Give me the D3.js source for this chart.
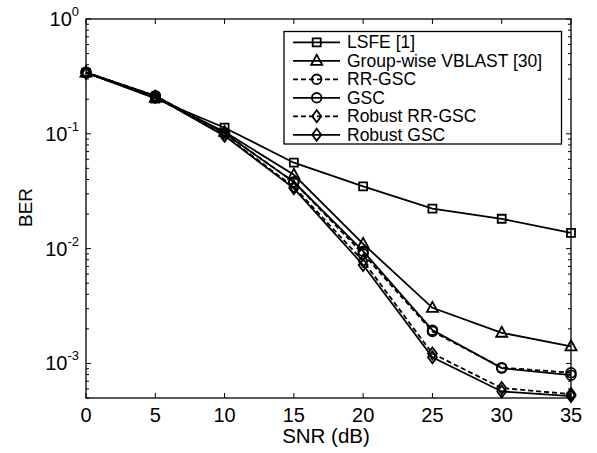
<!DOCTYPE html>
<html><head><meta charset="utf-8">
<script src="https://cdn.jsdelivr.net/npm/d3@7"></script>
<style>body{margin:0;background:#fff}svg{display:block}text{font-family:"Liberation Sans",Arial,sans-serif;fill:#000}</style>
</head><body>
<svg id="c" width="597" height="453"></svg>
<script>
const snr = [0, 5, 10, 15, 20, 25, 30, 35];
const seriesNames = ["LSFE [1]", "Group-wise VBLAST [30]", "RR-GSC", "GSC", "Robust RR-GSC", "Robust GSC"];
const markers = ["square", "triangle", "circle", "circle", "diamond", "diamond"];
const dashed = [false, false, true, false, true, false];
const lsfe = [0.341, 0.203, 0.113, 0.056, 0.0348, 0.0223, 0.0182, 0.0137];
const vblast = [0.341, 0.206, 0.104, 0.044, 0.0110, 0.00305, 0.00185, 0.00141];
const rrgsc = [0.343, 0.214, 0.102, 0.038, 0.0090, 0.00190, 0.00092, 0.00083];
const gsc = [0.343, 0.214, 0.101, 0.038, 0.0095, 0.00195, 0.00091, 0.00079];
const robRrgsc = [0.341, 0.210, 0.097, 0.0345, 0.0078, 0.00122, 0.00061, 0.00054];
const robGsc = [0.341, 0.210, 0.096, 0.0335, 0.0072, 0.00113, 0.00057, 0.00052];
const allSeries = [lsfe, vblast, rrgsc, gsc, robRrgsc, robGsc];
const xTicks = [0, 5, 10, 15, 20, 25, 30, 35];
const yTicks = [1, 0.1, 0.01, 0.001];
const yExp = ["0", "-1", "-2", "-3"];

const svg = d3.select("#c");
const L = 86, R = 571, T = 19, B = 398;
const x = d3.scaleLinear().domain([0, 35]).range([L, R]);
const y = d3.scaleLog().domain([5e-4, 1]).range([B, T]);
const SW = 1.8;

// frame
svg.append("rect").attr("x", L).attr("y", T).attr("width", R - L).attr("height", B - T)
  .attr("fill", "none").attr("stroke", "#000").attr("stroke-width", 1.3);

// x ticks (inward bottom and top)
const xt = svg.append("g");
xTicks.forEach(v => {
  xt.append("line").attr("x1", x(v)).attr("x2", x(v)).attr("y1", B).attr("y2", B - 5).attr("stroke", "#000");
  xt.append("line").attr("x1", x(v)).attr("x2", x(v)).attr("y1", T).attr("y2", T + 5).attr("stroke", "#000");
  xt.append("text").attr("x", x(v)).attr("y", 421.5).attr("text-anchor", "middle").attr("font-size", 20).text(v);
});

// y ticks major and minor
const yt = svg.append("g");
const minor = [];
[1e-4, 1e-3, 1e-2, 1e-1].forEach(d => { for (let k = 2; k <= 9; k++) { const v = k * d; if (v >= 5e-4 && v < 1) minor.push(v); } });
minor.forEach(v => {
  yt.append("line").attr("x1", L).attr("x2", L + 3).attr("y1", y(v)).attr("y2", y(v)).attr("stroke", "#000");
  yt.append("line").attr("x1", R).attr("x2", R - 3).attr("y1", y(v)).attr("y2", y(v)).attr("stroke", "#000");
});
yTicks.forEach((v, i) => {
  yt.append("line").attr("x1", L).attr("x2", L + 5).attr("y1", y(v)).attr("y2", y(v)).attr("stroke", "#000");
  yt.append("line").attr("x1", R).attr("x2", R - 5).attr("y1", y(v)).attr("y2", y(v)).attr("stroke", "#000");
  const t = yt.append("text").attr("x", 79).attr("y", y(v) + 7).attr("text-anchor", "end").attr("font-size", 20);
  t.append("tspan").text("10");
  t.append("tspan").attr("font-size", 13).attr("dy", -10).text(yExp[i]);
});

// axis labels
svg.append("text").attr("x", 326).attr("y", 443).attr("text-anchor", "middle").attr("font-size", 20.5).text("SNR (dB)");
svg.append("text").attr("transform", "translate(32,207.5) rotate(-90)").attr("text-anchor", "middle").attr("font-size", 19).text("BER");

function drawMarker(g, type, cx, cy) {
  if (type === "circle") {
    g.append("circle").attr("cx", cx).attr("cy", cy).attr("r", 4.8).attr("fill", "none").attr("stroke", "#000").attr("stroke-width", SW);
    return;
  }
  const s = g.append("path").attr("fill", "none").attr("stroke", "#000").attr("stroke-width", SW);
  if (type === "square") s.attr("d", `M${cx-4},${cy-4}h8v8h-8z`);
  else if (type === "triangle") s.attr("d", `M${cx},${cy-6}L${cx+5.5},${cy+4}L${cx-5.5},${cy+4}Z`);
  else if (type === "diamond") s.attr("d", `M${cx},${cy-6}L${cx+4.5},${cy}L${cx},${cy+6}L${cx-4.5},${cy}Z`);
}

const line = d3.line().x((d, i) => x(snr[i])).y(d => y(d));
const plot = svg.append("g");
allSeries.forEach((vals, si) => {
  plot.append("path").datum(vals).attr("d", line).attr("fill", "none").attr("stroke", "#000")
    .attr("stroke-width", SW).attr("stroke-dasharray", dashed[si] ? "5,3" : null);
});
allSeries.forEach((vals, si) => {
  vals.forEach((v, i) => drawMarker(plot, markers[si], x(snr[i]), y(v)));
});

// legend
const lg = svg.append("g");
lg.append("rect").attr("x", 284).attr("y", 31.5).attr("width", 277.5).attr("height", 112.5)
  .attr("fill", "#fff").attr("stroke", "#000").attr("stroke-width", 1.3);
seriesNames.forEach((nm, i) => {
  const cy = 42.3 + i * 18.5;
  lg.append("line").attr("x1", 293).attr("x2", 340).attr("y1", cy).attr("y2", cy).attr("stroke", "#000")
    .attr("stroke-width", SW).attr("stroke-dasharray", dashed[i] ? "5,3" : null);
  drawMarker(lg, markers[i], 316.7, cy);
  lg.append("text").attr("x", 347).attr("y", cy + 6).attr("font-size", 17.5).text(nm);
});
</script>
</body></html>
